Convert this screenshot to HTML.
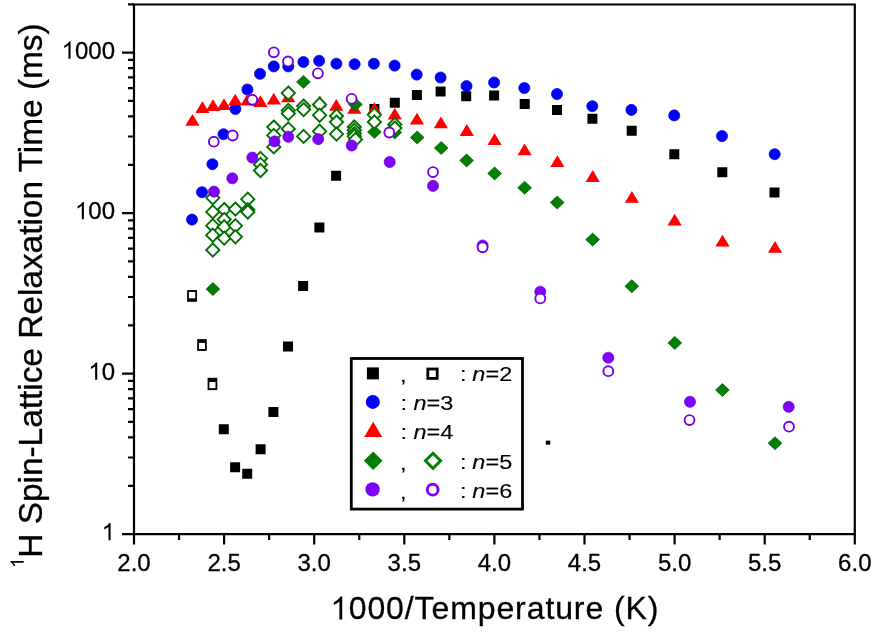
<!DOCTYPE html>
<html><head><meta charset="utf-8"><style>
html,body{margin:0;padding:0;background:#fff;}
svg{display:block;will-change:transform;}
text{font-family:"Liberation Sans", sans-serif;fill:#000;stroke:#000;stroke-width:0.3px;}
</style></head><body>
<svg width="879" height="635" viewBox="0 0 879 635">
<path d="M218.8,424.3h10v10h-10ZM230.1,462.3h10v10h-10ZM242.2,468.7h10v10h-10ZM255.6,444.3h10v10h-10ZM268.4,407.0h10v10h-10ZM283.0,341.5h10v10h-10ZM298.1,281.0h10v10h-10ZM314.4,222.4h10v10h-10ZM331.1,170.7h10v10h-10ZM369.4,104.0h10v10h-10ZM389.8,97.8h10v10h-10ZM411.9,90.0h10v10h-10ZM435.6,86.6h10v10h-10ZM461.2,91.2h10v10h-10ZM489.1,90.6h10v10h-10ZM519.7,99.0h10v10h-10ZM552.0,104.9h10v10h-10ZM587.4,113.8h10v10h-10ZM626.7,125.8h10v10h-10ZM669.3,149.2h10v10h-10ZM717.3,167.3h10v10h-10ZM769.5,187.5h10v10h-10Z" fill="#000"/>
<rect x="545.8" y="440.6" width="4.5" height="4" fill="#000"/>
<rect x="187.1" y="290.1" width="9.9" height="11.7" fill="#000"/>
<rect x="188.9" y="292" width="6.4" height="6.3" fill="#fff"/>
<rect x="197.2" y="339.1" width="9.6" height="11.8" fill="#000"/>
<rect x="199.0" y="342.9" width="6.0" height="6.1" fill="#fff"/>
<rect x="207.6" y="377.8" width="9.7" height="12.3" fill="#000"/>
<rect x="209.4" y="382" width="6.1" height="6.2" fill="#fff"/>
<g fill="#0000ff" stroke="#0000c4" stroke-width="0.7"><circle cx="192" cy="219.6" r="5.55"/><circle cx="202" cy="192.2" r="5.55"/><circle cx="212.4" cy="164.2" r="5.55"/><circle cx="223.5" cy="134.2" r="5.55"/><circle cx="235.4" cy="109" r="5.55"/><circle cx="247.4" cy="89.5" r="5.55"/><circle cx="260" cy="73.8" r="5.55"/><circle cx="273.8" cy="66.4" r="5.55"/><circle cx="288.3" cy="66.4" r="5.55"/><circle cx="303.4" cy="62" r="5.55"/><circle cx="319.1" cy="60.8" r="5.55"/><circle cx="336.4" cy="63.7" r="5.55"/><circle cx="354.6" cy="64.2" r="5.55"/><circle cx="373.9" cy="63.7" r="5.55"/><circle cx="394.6" cy="65.6" r="5.55"/><circle cx="416.7" cy="74.6" r="5.55"/><circle cx="440.6" cy="77.5" r="5.55"/><circle cx="466.5" cy="86.1" r="5.55"/><circle cx="494.1" cy="82.5" r="5.55"/><circle cx="524.3" cy="88" r="5.55"/><circle cx="557" cy="94" r="5.55"/><circle cx="592.3" cy="106.2" r="5.55"/><circle cx="631.4" cy="109.9" r="5.55"/><circle cx="674.2" cy="115.4" r="5.55"/><circle cx="722" cy="136.1" r="5.55"/><circle cx="774.7" cy="154.2" r="5.55"/></g>
<path d="M192.4,114.0L199.5,125.8L185.3,125.8ZM202.4,101.2L209.5,113.0L195.3,113.0ZM213.0,99.2L220.1,111.0L205.9,111.0ZM224.0,98.2L231.1,110.0L216.9,110.0ZM235.2,93.7L242.3,105.5L228.1,105.5ZM247.6,93.6L254.7,105.4L240.5,105.4ZM260.4,95.2L267.5,107.0L253.3,107.0ZM273.8,92.7L280.9,104.5L266.7,104.5ZM288.3,90.4L295.4,102.2L281.2,102.2ZM319.8,95.5L326.9,107.3L312.7,107.3ZM336.3,99.0L343.4,110.8L329.2,110.8ZM354.3,101.9L361.4,113.7L347.2,113.7ZM374.4,102.2L381.5,114.0L367.3,114.0ZM394.8,107.7L401.9,119.5L387.7,119.5ZM417.0,112.8L424.1,124.6L409.9,124.6ZM440.9,116.5L448.0,128.3L433.8,128.3ZM466.8,124.1L473.9,135.9L459.7,135.9ZM494.6,133.3L501.7,145.1L487.5,145.1ZM524.6,143.4L531.7,155.2L517.5,155.2ZM557.4,155.2L564.5,167.0L550.3,167.0ZM592.7,170.1L599.8,181.9L585.6,181.9ZM631.9,191.0L639.0,202.8L624.8,202.8ZM674.6,213.7L681.7,225.5L667.5,225.5ZM722.5,234.7L729.6,246.5L715.4,246.5ZM775.0,240.9L782.1,252.7L767.9,252.7Z" fill="#ff0000"/>
<g fill="#008000" stroke="#005c00" stroke-width="0.7"><path d="M212.9,282.6L219.8,289.1L212.9,295.6L206.0,289.1Z"/><path d="M303.4,75.4L310.3,81.9L303.4,88.4L296.5,81.9Z"/><path d="M355.4,97.9L362.3,104.4L355.4,110.9L348.5,104.4Z"/><path d="M374.4,125.4L381.3,131.9L374.4,138.4L367.5,131.9Z"/><path d="M394.8,125.9L401.7,132.4L394.8,138.9L387.9,132.4Z"/><path d="M417.2,131.0L424.1,137.5L417.2,144.0L410.3,137.5Z"/><path d="M441.2,141.5L448.1,148.0L441.2,154.5L434.3,148.0Z"/><path d="M466.6,153.9L473.5,160.4L466.6,166.9L459.7,160.4Z"/><path d="M494.6,166.9L501.5,173.4L494.6,179.9L487.7,173.4Z"/><path d="M524.6,181.2L531.5,187.7L524.6,194.2L517.7,187.7Z"/><path d="M557.2,196.0L564.1,202.5L557.2,209.0L550.3,202.5Z"/><path d="M592.6,233.1L599.5,239.6L592.6,246.1L585.7,239.6Z"/><path d="M631.8,279.7L638.7,286.2L631.8,292.7L624.9,286.2Z"/><path d="M674.8,336.4L681.7,342.9L674.8,349.4L667.9,342.9Z"/><path d="M722.4,383.5L729.3,390.0L722.4,396.5L715.5,390.0Z"/><path d="M775.0,436.7L781.9,443.2L775.0,449.7L768.1,443.2Z"/></g>
<g fill="#fff" stroke="#007000" stroke-width="1.9"><path d="M212.8,191.2L219.4,197.8L212.8,204.4L206.2,197.8Z"/><path d="M212.8,205.3L219.4,211.9L212.8,218.5L206.2,211.9Z"/><path d="M212.8,219.1L219.4,225.7L212.8,232.3L206.2,225.7Z"/><path d="M212.8,228.6L219.4,235.2L212.8,241.8L206.2,235.2Z"/><path d="M212.8,243.4L219.4,250.0L212.8,256.6L206.2,250.0Z"/><path d="M224.2,203.0L230.8,209.6L224.2,216.2L217.6,209.6Z"/><path d="M224.2,212.9L230.8,219.5L224.2,226.1L217.6,219.5Z"/><path d="M224.2,220.2L230.8,226.8L224.2,233.4L217.6,226.8Z"/><path d="M224.2,231.5L230.8,238.1L224.2,244.7L217.6,238.1Z"/><path d="M235.4,202.5L242.0,209.1L235.4,215.7L228.8,209.1Z"/><path d="M235.4,219.2L242.0,225.8L235.4,232.4L228.8,225.8Z"/><path d="M235.4,230.2L242.0,236.8L235.4,243.4L228.8,236.8Z"/><path d="M247.8,192.6L254.4,199.2L247.8,205.8L241.2,199.2Z"/><path d="M247.8,203.2L254.4,209.8L247.8,216.4L241.2,209.8Z"/><path d="M247.8,205.4L254.4,212.0L247.8,218.6L241.2,212.0Z"/><path d="M260.5,151.8L267.1,158.4L260.5,165.0L253.9,158.4Z"/><path d="M260.5,157.8L267.1,164.4L260.5,171.0L253.9,164.4Z"/><path d="M260.5,163.9L267.1,170.5L260.5,177.1L253.9,170.5Z"/><path d="M273.8,120.5L280.4,127.1L273.8,133.7L267.2,127.1Z"/><path d="M273.8,128.8L280.4,135.4L273.8,142.0L267.2,135.4Z"/><path d="M273.8,140.3L280.4,146.9L273.8,153.5L267.2,146.9Z"/><path d="M288.3,86.5L294.9,93.1L288.3,99.7L281.7,93.1Z"/><path d="M288.3,103.8L294.9,110.4L288.3,117.0L281.7,110.4Z"/><path d="M288.3,107.0L294.9,113.6L288.3,120.2L281.7,113.6Z"/><path d="M288.3,122.3L294.9,128.9L288.3,135.5L281.7,128.9Z"/><path d="M303.6,99.5L310.2,106.1L303.6,112.7L297.0,106.1Z"/><path d="M303.6,103.0L310.2,109.6L303.6,116.2L297.0,109.6Z"/><path d="M303.6,129.8L310.2,136.4L303.6,143.0L297.0,136.4Z"/><path d="M319.6,97.9L326.2,104.5L319.6,111.1L313.0,104.5Z"/><path d="M319.6,108.6L326.2,115.2L319.6,121.8L313.0,115.2Z"/><path d="M319.6,124.7L326.2,131.3L319.6,137.9L313.0,131.3Z"/><path d="M336.5,109.4L343.1,116.0L336.5,122.6L329.9,116.0Z"/><path d="M336.5,115.5L343.1,122.1L336.5,128.7L329.9,122.1Z"/><path d="M336.5,127.5L343.1,134.1L336.5,140.7L329.9,134.1Z"/><path d="M354.3,120.4L360.9,127.0L354.3,133.6L347.7,127.0Z"/><path d="M354.3,123.7L360.9,130.3L354.3,136.9L347.7,130.3Z"/><path d="M354.3,127.0L360.9,133.6L354.3,140.2L347.7,133.6Z"/><path d="M354.3,129.7L360.9,136.3L354.3,142.9L347.7,136.3Z"/><path d="M355.5,132.9L362.1,139.5L355.5,146.1L348.9,139.5Z"/><path d="M374.4,108.2L381.0,114.8L374.4,121.4L367.8,114.8Z"/><path d="M374.4,115.4L381.0,122.0L374.4,128.6L367.8,122.0Z"/><path d="M394.8,117.9L401.4,124.5L394.8,131.1L388.2,124.5Z"/><path d="M394.8,121.5L401.4,128.1L394.8,134.7L388.2,128.1Z"/></g>
<g fill="#8000ff" stroke="#6a00d4" stroke-width="0.7"><circle cx="214" cy="191.6" r="5.55"/><circle cx="232.3" cy="178.3" r="5.55"/><circle cx="252.3" cy="157.6" r="5.55"/><circle cx="274.5" cy="141.4" r="5.55"/><circle cx="288.3" cy="136.8" r="5.55"/><circle cx="318.2" cy="139.1" r="5.55"/><circle cx="351.7" cy="145.5" r="5.55"/><circle cx="389.7" cy="162" r="5.55"/><circle cx="433" cy="185.9" r="5.55"/><circle cx="482.6" cy="245.5" r="5.55"/><circle cx="540.3" cy="291.7" r="5.55"/><circle cx="608.3" cy="357.7" r="5.55"/><circle cx="690" cy="401.8" r="5.55"/><circle cx="788.7" cy="406.8" r="5.55"/></g>
<g fill="#fff" stroke="#7400ee" stroke-width="1.9"><circle cx="213.8" cy="141.7" r="4.95"/><circle cx="232.7" cy="135.5" r="4.95"/><circle cx="252.3" cy="99.8" r="4.95"/><circle cx="273.8" cy="52.3" r="4.95"/><circle cx="288" cy="61.4" r="4.95"/><circle cx="317.9" cy="73.3" r="4.95"/><circle cx="351.6" cy="98.8" r="4.95"/><circle cx="389.3" cy="132.5" r="4.95"/><circle cx="433" cy="172.1" r="4.95"/><circle cx="482.6" cy="247.3" r="4.95"/><circle cx="540.3" cy="298.4" r="4.95"/><circle cx="608.3" cy="371.2" r="4.95"/><circle cx="689.5" cy="420.1" r="4.95"/><circle cx="789" cy="426.7" r="4.95"/></g>
<path d="M134,4.5 H854.8 V534.1 H134 Z" fill="none" stroke="#000" stroke-width="2.2"/>
<path d="M122,534.10 H134 M128,485.78 H134 M128,457.52 H134 M128,437.47 H134 M128,421.92 H134 M128,409.21 H134 M128,398.46 H134 M128,389.15 H134 M128,380.94 H134 M122,373.60 H134 M128,325.28 H134 M128,297.02 H134 M128,276.97 H134 M128,261.42 H134 M128,248.71 H134 M128,237.96 H134 M128,228.65 H134 M128,220.44 H134 M122,213.10 H134 M128,164.78 H134 M128,136.52 H134 M128,116.47 H134 M128,100.92 H134 M128,88.21 H134 M128,77.46 H134 M128,68.15 H134 M128,59.94 H134 M122,52.60 H134 M128,4.28 H134 M134.00,534.1 V544.6 M179.05,534.1 V540.1 M224.10,534.1 V544.6 M269.15,534.1 V540.1 M314.20,534.1 V544.6 M359.25,534.1 V540.1 M404.30,534.1 V544.6 M449.35,534.1 V540.1 M494.40,534.1 V544.6 M539.45,534.1 V540.1 M584.50,534.1 V544.6 M629.55,534.1 V540.1 M674.60,534.1 V544.6 M719.65,534.1 V540.1 M764.70,534.1 V544.6 M809.75,534.1 V540.1 M854.80,534.1 V544.6" stroke="#000" stroke-width="2.2" fill="none"/>
<text x="115" y="540.30" text-anchor="end" font-size="24"> </text>
<path transform="translate(101.65,540.30) scale(0.01172,-0.01172)" d="M763,0H583V1147Q518,1085 412,1023Q306,961 223,930V1104Q373,1175 486,1276Q599,1377 646,1466H763Z" />
<text x="115" y="379.80" text-anchor="end" font-size="24"> 0</text>
<path transform="translate(88.30,379.80) scale(0.01172,-0.01172)" d="M763,0H583V1147Q518,1085 412,1023Q306,961 223,930V1104Q373,1175 486,1276Q599,1377 646,1466H763Z" />
<text x="115" y="219.30" text-anchor="end" font-size="24"> 00</text>
<path transform="translate(74.96,219.30) scale(0.01172,-0.01172)" d="M763,0H583V1147Q518,1085 412,1023Q306,961 223,930V1104Q373,1175 486,1276Q599,1377 646,1466H763Z" />
<text x="115" y="58.80" text-anchor="end" font-size="24"> 000</text>
<path transform="translate(61.61,58.80) scale(0.01172,-0.01172)" d="M763,0H583V1147Q518,1085 412,1023Q306,961 223,930V1104Q373,1175 486,1276Q599,1377 646,1466H763Z" />
<text x="134.00" y="570.5" text-anchor="middle" font-size="24">2.0</text>
<text x="224.10" y="570.5" text-anchor="middle" font-size="24">2.5</text>
<text x="314.20" y="570.5" text-anchor="middle" font-size="24">3.0</text>
<text x="404.30" y="570.5" text-anchor="middle" font-size="24">3.5</text>
<text x="494.40" y="570.5" text-anchor="middle" font-size="24">4.0</text>
<text x="584.50" y="570.5" text-anchor="middle" font-size="24">4.5</text>
<text x="674.60" y="570.5" text-anchor="middle" font-size="24">5.0</text>
<text x="764.70" y="570.5" text-anchor="middle" font-size="24">5.5</text>
<text x="854.80" y="570.5" text-anchor="middle" font-size="24">6.0</text>
<text x="330" y="619.4" font-size="32" letter-spacing="0.9"> 000/Temperature (K)</text>
<path transform="translate(330.30,619.40) scale(0.01562,-0.01562)" d="M763,0H583V1147Q518,1085 412,1023Q306,961 223,930V1104Q373,1175 486,1276Q599,1377 646,1466H763Z" />
<g transform="translate(42.2,568) rotate(-90)"><text font-size="33.5" letter-spacing="-0.05"><tspan font-size="18.5" dy="-18.5"> </tspan><tspan dy="18.5">H Spin-Lattice Relaxation Time (ms)</tspan></text><path transform="translate(0.00,-18.50) scale(0.00903,-0.00903)" d="M763,0H583V1147Q518,1085 412,1023Q306,961 223,930V1104Q373,1175 486,1276Q599,1377 646,1466H763Z" /></g>
<rect x="351.3" y="358.5" width="171.2" height="150.6" fill="#fff" stroke="#000" stroke-width="2.8"/>
<rect x="366.9" y="367.4" width="12" height="12" fill="#000"/>
<rect x="427.8" y="369" width="9.4" height="9.4" fill="#fff" stroke="#000" stroke-width="2.8"/>
<circle cx="372.8" cy="401.9" r="7" fill="#0000ff"/>
<path d="M373.2,421.8L382.2,437.0L364.2,437.0Z" fill="#ff0000"/>
<path d="M373.2,451.4L382.5,460.7L373.2,470.0L363.9,460.7Z" fill="#008000"/>
<path d="M433.0,453.2L440.6,460.8L433.0,468.4L425.4,460.8Z" fill="#fff" stroke="#008000" stroke-width="2.9"/>
<circle cx="372.6" cy="489.4" r="7.2" fill="#8000ff"/>
<circle cx="432.7" cy="489.7" r="5.4" fill="#fff" stroke="#8000ff" stroke-width="2.9"/>
<text transform="translate(399.9,382.3) scale(1.16,1)" font-size="20.3" style="stroke-width:0.12px">,</text>
<text transform="translate(399.9,469.5) scale(1.16,1)" font-size="20.3" style="stroke-width:0.12px">,</text>
<text transform="translate(399.9,498.6) scale(1.16,1)" font-size="20.3" style="stroke-width:0.12px">,</text>
<text transform="translate(460.0,381.3) scale(1.16,1)" font-size="20.3" style="stroke-width:0.12px">:</text>
<text transform="translate(472.3,381.3) scale(1.16,1)" font-size="20.3" style="stroke-width:0.12px"><tspan font-style="italic">n</tspan>=2</text>
<text transform="translate(460.0,468.5) scale(1.16,1)" font-size="20.3" style="stroke-width:0.12px">:</text>
<text transform="translate(472.3,468.5) scale(1.16,1)" font-size="20.3" style="stroke-width:0.12px"><tspan font-style="italic">n</tspan>=5</text>
<text transform="translate(460.0,497.6) scale(1.16,1)" font-size="20.3" style="stroke-width:0.12px">:</text>
<text transform="translate(472.3,497.6) scale(1.16,1)" font-size="20.3" style="stroke-width:0.12px"><tspan font-style="italic">n</tspan>=6</text>
<text transform="translate(400.4,409.9) scale(1.16,1)" font-size="20.3" style="stroke-width:0.12px">:</text>
<text transform="translate(413.4,409.9) scale(1.16,1)" font-size="20.3" style="stroke-width:0.12px"><tspan font-style="italic">n</tspan>=3</text>
<text transform="translate(400.4,439.4) scale(1.16,1)" font-size="20.3" style="stroke-width:0.12px">:</text>
<text transform="translate(413.4,439.4) scale(1.16,1)" font-size="20.3" style="stroke-width:0.12px"><tspan font-style="italic">n</tspan>=4</text>
</svg>
</body></html>
